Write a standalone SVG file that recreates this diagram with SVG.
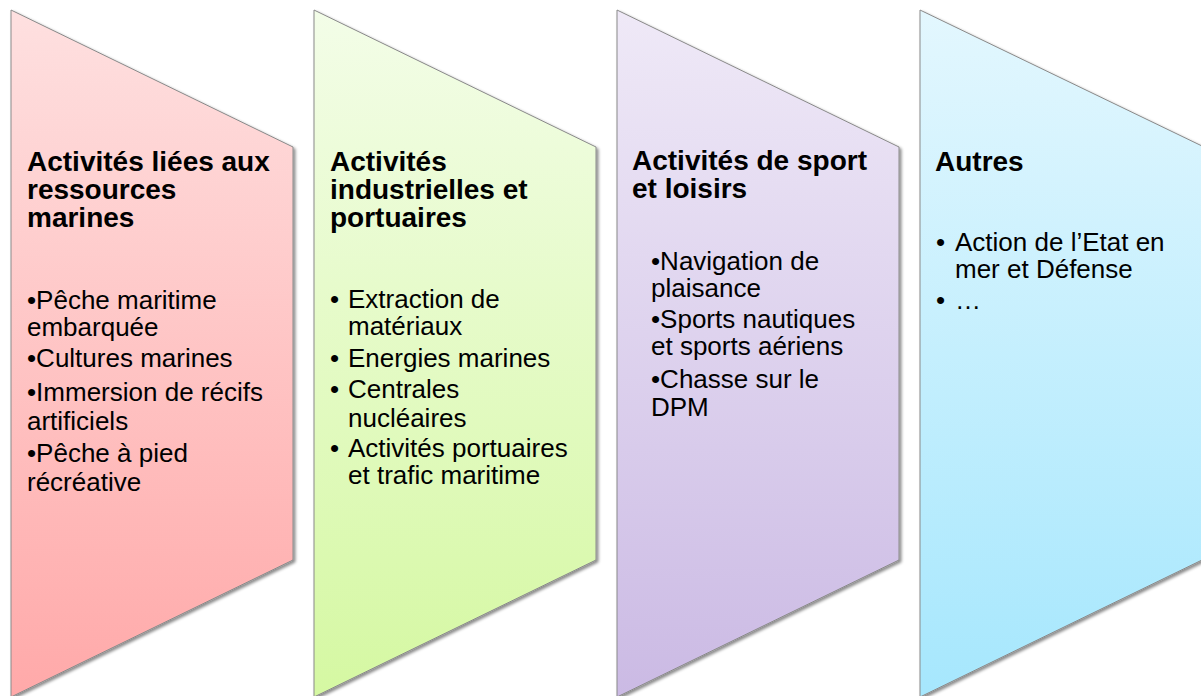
<svg xmlns="http://www.w3.org/2000/svg" width="1201" height="696" viewBox="0 0 1201 696">
<defs>
<linearGradient id="gRed" x1="0" y1="0" x2="0" y2="1"><stop offset="0" stop-color="#fee0e0"/><stop offset="1" stop-color="#ffa9a9"/></linearGradient>
<linearGradient id="gGreen" x1="0" y1="0" x2="0" y2="1"><stop offset="0" stop-color="#f3fde8"/><stop offset="1" stop-color="#d5f8a2"/></linearGradient>
<linearGradient id="gPurple" x1="0" y1="0" x2="0" y2="1"><stop offset="0" stop-color="#efe9f7"/><stop offset="1" stop-color="#cbbae4"/></linearGradient>
<linearGradient id="gBlue" x1="0" y1="0" x2="0" y2="1"><stop offset="0" stop-color="#e3f7fe"/><stop offset="1" stop-color="#a6e7fd"/></linearGradient>
<filter id="sh" x="-10%" y="-10%" width="120%" height="120%"><feDropShadow dx="2" dy="2" stdDeviation="1.5" flood-color="#000" flood-opacity="0.45"/></filter>
</defs>
<style>
.shape{stroke:#8a8a8a;stroke-width:1;filter:url(#sh)}
.title{font-family:"Liberation Sans",Arial,sans-serif;font-weight:bold;font-size:28px;fill:#000}
.item{font-family:"Liberation Sans",Arial,sans-serif;font-size:26px;fill:#000}
</style>
<rect width="1201" height="696" fill="#fff"/>
<g id="connectors"></g>
<g id="node1">
<polygon class="shape" fill="url(#gRed)" points="11,10 293,147 293,560 11,697"/>
<text class="title"><tspan x="27" y="171">Activités liées aux</tspan><tspan x="27" y="199">ressources</tspan><tspan x="27" y="227">marines</tspan></text>
<text class="item"><tspan x="27" y="309">•Pêche maritime</tspan><tspan x="27" y="336">embarquée</tspan><tspan x="27" y="367">•Cultures marines</tspan><tspan x="27" y="401">•Immersion de récifs</tspan><tspan x="27" y="430">artificiels</tspan><tspan x="27" y="462">•Pêche à pied</tspan><tspan x="27" y="491">récréative</tspan></text>
</g>
<g id="node2">
<polygon class="shape" fill="url(#gGreen)" points="314,10 596,147 596,560 314,697"/>
<text class="title"><tspan x="330" y="171">Activités</tspan><tspan x="330" y="199">industrielles et</tspan><tspan x="330" y="227">portuaires</tspan></text>
<text class="item"><tspan x="330" y="308">•</tspan><tspan x="348" y="308">Extraction de</tspan><tspan x="348" y="335">matériaux</tspan><tspan x="330" y="367">•</tspan><tspan x="348" y="367">Energies marines</tspan><tspan x="330" y="398">•</tspan><tspan x="348" y="398">Centrales</tspan><tspan x="348" y="427">nucléaires</tspan><tspan x="330" y="457">•</tspan><tspan x="348" y="457">Activités portuaires</tspan><tspan x="348" y="484">et trafic maritime</tspan></text>
</g>
<g id="node3">
<polygon class="shape" fill="url(#gPurple)" points="617,10 899,147 899,560 617,697"/>
<text class="title"><tspan x="632" y="170">Activités de sport</tspan><tspan x="632" y="198">et loisirs</tspan></text>
<text class="item"><tspan x="651" y="270">•Navigation de</tspan><tspan x="651" y="297">plaisance</tspan><tspan x="651" y="328">•Sports nautiques</tspan><tspan x="651" y="355">et sports aériens</tspan><tspan x="651" y="388">•Chasse sur le</tspan><tspan x="651" y="416">DPM</tspan></text>
</g>
<g id="node4">
<polygon class="shape" fill="url(#gBlue)" points="920,10 1202,146 1202,560 920,697"/>
<text class="title"><tspan x="935" y="171">Autres</tspan></text>
<text class="item"><tspan x="936" y="251">•</tspan><tspan x="955" y="251">Action de l’Etat en</tspan><tspan x="955" y="278">mer et Défense</tspan><tspan x="936" y="309">•</tspan><tspan x="955" y="309">…</tspan></text>
</g>
</svg>
